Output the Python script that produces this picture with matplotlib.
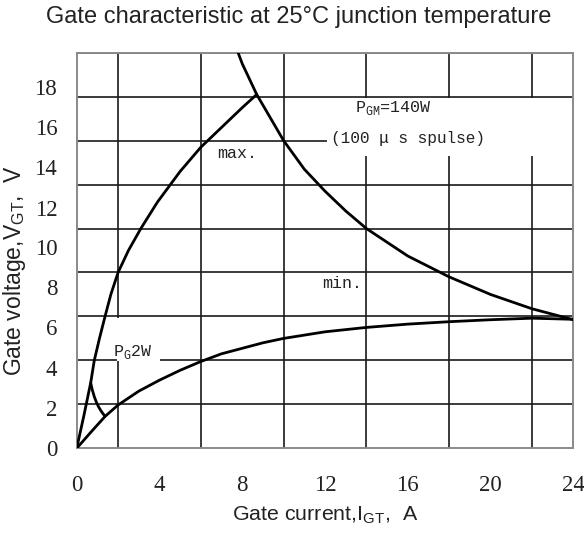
import numpy as np
import matplotlib.pyplot as plt
from matplotlib.patches import Rectangle

plt.rcParams['mathtext.fontset'] = 'custom'
plt.rcParams['mathtext.rm'] = 'Liberation Mono'
plt.rcParams['mathtext.sf'] = 'Liberation Sans'

# max. gate characteristic (upper limit curve), I in A, V in V
i_max = [0, 0.35, 0.68, 0.85, 1.1, 1.37, 1.65, 2.0, 2.5, 3.1, 3.9, 5.0, 6.0, 7.0, 8.0, 8.7]
v_max = [0, 1.5, 3.0, 4.0, 5.0, 6.0, 7.0, 8.0, 9.0, 10.0, 11.2, 12.6, 13.7, 14.6, 15.5, 16.1]

# min. gate characteristic (lower limit curve)
i_min = [0, 0.7, 1.37, 2.0, 3.0, 4.0, 5.0, 6.0, 7.0, 8.0, 9.0, 10.0, 12.0, 14.0, 16.0, 18.0, 20.0, 22.0, 24.0]
v_min = [0, 0.75, 1.45, 1.97, 2.6, 3.1, 3.55, 3.95, 4.3, 4.55, 4.8, 5.0, 5.3, 5.5, 5.65, 5.76, 5.85, 5.92, 5.87]

# P_GM = 140 W peak gate power limit
i_pgm = [7.8, 8.0, 8.7, 10.0, 11.0, 12.0, 13.0, 14.0, 16.0, 18.0, 20.0, 22.0, 24.0]
v_pgm = [18.0, 17.5, 16.1, 14.0, 12.7, 11.7, 10.8, 10.0, 8.75, 7.8, 7.0, 6.35, 5.85]

# P_G = 2 W average gate power limit
i_pg = [0.68, 0.75, 0.85, 0.95, 1.05, 1.15, 1.25, 1.37]
v_pg = [2.96, 2.67, 2.35, 2.1, 1.9, 1.74, 1.6, 1.46]

x_ticks = [0, 4, 8, 12, 16, 20, 24]
y_tick_labels = ['0', '2', '4', '6', '8', '10', '12', '14', '16', '18']
# the printed labels in the original drift off the grid lines
y_tick_pos = [0, 1.83, 3.66, 5.5, 7.33, 9.16, 10.95, 12.8, 14.6, 16.45]

fig = plt.figure(figsize=(5.84, 5.33), dpi=100)
ax = fig.add_axes([76.7/584, 1 - 448.3/533, (573.3-76.7)/584, (448.3-52.7)/533])

ax.set_xlim(0, 24)
ax.set_ylim(0, 18)
ax.set_axisbelow(True)

ax.set_xticks(x_ticks)
ax.set_xticks(np.arange(0, 25, 2), minor=True)
ax.set_yticks(y_tick_pos)
ax.set_yticklabels(y_tick_labels)
ax.set_yticks(np.arange(0, 19, 2), minor=True)
ax.tick_params(which='both', length=0)
ax.tick_params(axis='x', pad=19)
ax.tick_params(axis='y', pad=14)
for lab in ax.get_xticklabels() + ax.get_yticklabels():
    lab.set_fontfamily('Liberation Serif')
    lab.set_fontsize(16.5)
    lab.set_color('#222222')
ax.grid(which='minor', color='#1a1a1a', lw=1.2)
for s in ax.spines.values():
    s.set_color('#8a8a8a')
    s.set_linewidth(1.4)

# white patches behind annotations (grid broken there)
for (x0, y0, w, h) in [(12.08, 13.3, 11.9, 2.64), (6.3, 12.06, 2.9, 1.88),
                       (1.97, 3.97, 2.06, 1.98)]:
    ax.add_patch(Rectangle((x0, y0), w, h, facecolor='white', edgecolor='none', zorder=1))

lw = 2.0
for xs, ys in [(i_max, v_max), (i_min, v_min), (i_pgm, v_pgm), (i_pg, v_pg)]:
    ax.plot(xs, ys, color='black', lw=lw, zorder=3, solid_capstyle='round')

mono = dict(family='Liberation Mono', fontsize=12, color='#222222', va='center', zorder=4)
ax.text(13.45, 15.5, r'P$_{\mathrm{GM}}$=140W', **mono)
ax.text(12.3, 14.1, '(100 \u03bc s spulse)', fontsize=11.6,
        **{k: v for k, v in mono.items() if k != 'fontsize'})
ax.text(6.8, 13.4, 'max.', **mono)
ax.text(11.85, 7.5, 'min.', **mono)
ax.text(1.76, 4.4, r'P$_{\mathrm{G}}$2W', **mono)

ax.set_xlabel(r'Gate current,I$_{\mathsf{GT}}$,  A', family='Liberation Sans',
              fontsize=15.4, color='#222222')
ax.xaxis.set_label_coords(0.5, -0.143)
ax.set_ylabel(r'Gate voltage,V$_{\mathsf{GT}}$,  V', family='Liberation Sans',
              fontsize=16.5, color='#222222')
ax.yaxis.set_label_coords(-0.098, 0.45)

fig.text(0.512, 0.968, 'Gate characteristic at 25\u00b0C junction temperature',
         family='Liberation Sans', fontsize=17, color='#222222', ha='center', va='center')

fig.savefig('out.png', dpi=100)
